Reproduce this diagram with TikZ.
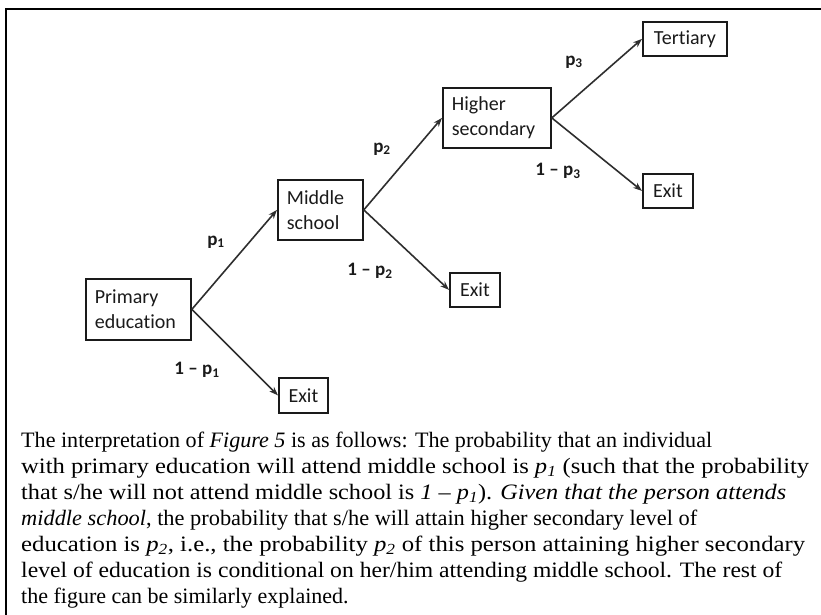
\documentclass[tikz,border=0pt]{standalone}
\usepackage{fontspec}
\usepackage{graphicx}
\setmainfont{Liberation Serif}
\newfontfamily\diafont[Ligatures=NoCommon]{Carlito}
\usetikzlibrary{arrows.meta}
\definecolor{ink}{HTML}{1A1A1A}
\definecolor{arrowc}{HTML}{2E2E2E}
\tikzset{
  box/.style={draw=ink, line width=1.8pt, text=ink, font=\diafont\fontsize{20}{25}\selectfont, inner sep=0pt, anchor=north west},
  twoline/.style={box, align=left},
  conn/.style={draw=arrowc, line width=1.6pt, -{Stealth[length=9pt,width=6.5pt]}},
  prob/.style={text=ink, font=\diafont\bfseries\fontsize{19}{22}\selectfont, inner sep=0pt},
  frame/.style={draw=black, line width=2pt},
  bodyline/.style={anchor=base west, inner sep=0pt, text=black, font=\fontsize{22}{26}\selectfont}
}
\newcommand{\fitline}[2]{\resizebox{#1pt}{\height}{#2}}
\begin{document}
\begin{tikzpicture}[x=1pt,y=-1pt]
\useasboundingbox (0,0) rectangle (821,615);
% frame
\coordinate (ftl) at (5.5,9);
\coordinate (ftr) at (821,9);
\coordinate (fbl) at (5.5,615);
\draw[frame] (ftr) -- (ftl) -- (fbl);
% nodes
\node[twoline, minimum width=105pt, minimum height=61pt, text width=87pt, inner xsep=9pt] (prim) at (85,278) {Primary\\education};
\node[box, minimum width=49pt, minimum height=35pt] (exit1) at (278,377) {Exit};
\node[twoline, minimum width=85pt, minimum height=60pt, text width=67pt, inner xsep=9pt] (mid) at (277,179) {Middle\\school};
\node[box, minimum width=50pt, minimum height=34pt] (exit2) at (449,272) {Exit};
\node[twoline, minimum width=108pt, minimum height=60pt, text width=90pt, inner xsep=9pt] (high) at (442,87) {Higher\\secondary};
\node[box, minimum width=84pt, minimum height=34pt] (tert) at (642,21) {Tertiary};
\node[box, minimum width=50pt, minimum height=34pt] (exit3) at (642,173) {Exit};
% connectors
\draw[conn] (prim.east) -- (mid.west);
\draw[conn] (prim.east) -- (exit1.west);
\draw[conn] (mid.east) -- (high.west);
\draw[conn] (mid.east) -- (exit2.west);
\draw[conn] (high.east) -- (tert.west);
\draw[conn] (high.east) -- (exit3.west);
% labels
\node[prob] (l1) at (216,242) {p\textsubscript{1}};
\node[prob] (l1b) at (197,370) {1 \textendash{} p\textsubscript{1}};
\node[prob] (l2) at (382,149) {p\textsubscript{2}};
\node[prob] (l2b) at (370,271) {1 \textendash{} p\textsubscript{2}};
\node[prob] (l3) at (574,62) {p\textsubscript{3}};
\node[prob] (l3b) at (558,171) {1 \textendash{} p\textsubscript{3}};
% body text
\node[bodyline] (t1) at (21,447.5) {\fitline{691}{The interpretation of \textit{Figure 5} is as follows: The probability that an individual}};
\node[bodyline] (t2) at (21,473.5) {\fitline{788}{with primary education will attend middle school is \textit{p\textsubscript{1}} (such that the probability}};
\node[bodyline] (t3) at (21,499.5) {\fitline{765}{that s/he will not attend middle school is \textit{1 \textendash{} p\textsubscript{1}}). \textit{Given that the person attends}}};
\node[bodyline] (t4) at (21,525.5) {\fitline{676}{\textit{middle school}, the probability that s/he will attain higher secondary level of}};
\node[bodyline] (t5) at (21,551.5) {\fitline{784}{education is \textit{p\textsubscript{2}}, i.e., the probability \textit{p\textsubscript{2}} of this person attaining higher secondary}};
\node[bodyline] (t6) at (21,577.5) {\fitline{761}{level of education is conditional on her/him attending middle school. The rest of}};
\node[bodyline] (t7) at (21,603.5) {the figure can be similarly explained.};
\end{tikzpicture}
\end{document}
